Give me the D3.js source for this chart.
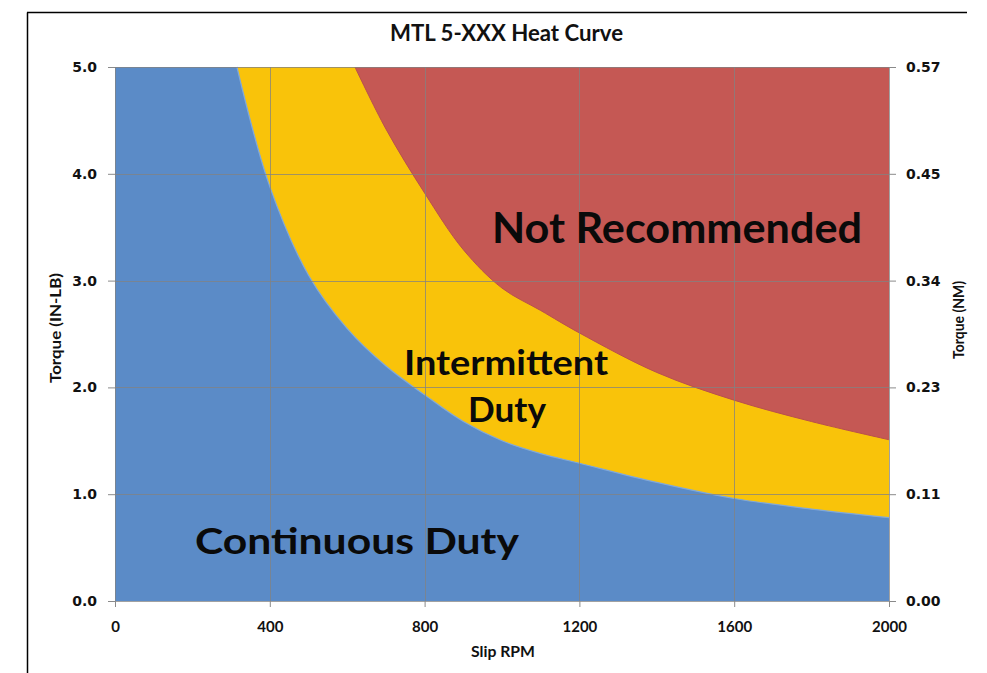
<!DOCTYPE html>
<html>
<head>
<meta charset="utf-8">
<script src="https://cdn.jsdelivr.net/npm/d3@7"></script>
<style>
  html, body { margin: 0; padding: 0; background: #fff; }
  svg { display: block; }
</style>
</head>
<body>
<svg id="chart" width="987" height="673"></svg>
<script>
// ---- Data ----
const title = "MTL 5-XXX Heat Curve";
const xTicks = [0, 400, 800, 1200, 1600, 2000];
const yTicks = [0, 1, 2, 3, 4, 5];
const nmTickLabels = ["0.00", "0.11", "0.23", "0.34", "0.45", "0.57"];

// Continuous duty limit (Torque IN-LB vs Slip RPM)
const contRpm    = [315, 400, 500, 600, 700, 800, 900, 1000, 1100, 1200, 1400, 1600, 1800, 2000];
const contTorque = [5.0, 3.88, 3.05, 2.55, 2.2, 1.93, 1.68, 1.5, 1.38, 1.29, 1.11, 0.96, 0.86, 0.78];

// Intermittent duty limit
const intRpm    = [620, 700, 800, 900, 1000, 1100, 1200, 1400, 1600, 1800, 2000];
const intTorque = [5.0, 4.42, 3.82, 3.29, 2.93, 2.72, 2.51, 2.14, 1.88, 1.68, 1.51];

const regionLabels = ["Not Recommended", "Intermittent", "Duty", "Continuous Duty"];

// ---- Layout ----
const svg = d3.select("#chart");
const L = 115, R = 889, T = 67, B = 601;
const x = d3.scaleLinear().domain([0, 2000]).range([L, R]);
const y = d3.scaleLinear().domain([0, 5]).range([B, T]);

const colBlue = "#5B8BC7", colYellow = "#F9C30A", colRed = "#C55854";
const bold = "Lato, 'Open Sans', sans-serif";
const verd = "'DejaVu Sans', Verdana, sans-serif";

// outer frame (partial, as in screenshot)
svg.append("line").attr("x1", 27.5).attr("x2", 27.5).attr("y1", 12.5).attr("y2", 673)
  .attr("stroke", "#000").attr("stroke-width", 1.5);
svg.append("line").attr("x1", 27).attr("x2", 967).attr("y1", 12.5).attr("y2", 12.5)
  .attr("stroke", "#000").attr("stroke-width", 1.5);

// title
svg.append("text").attr("x", 390).attr("y", 41)
  .attr("font-family", bold).attr("font-weight", 700).attr("font-size", 22)
  .attr("textLength", 233).attr("lengthAdjust", "spacingAndGlyphs")
  .attr("fill", "#111").text(title);

// ---- Areas ----
const line = d3.line().x(d => x(d[0])).y(d => y(d[1])).curve(d3.curveCatmullRom.alpha(0.5));
function regionPath(rpm, tq) {
  const pts = rpm.map((r, i) => [r, tq[i]]);
  const curve = line(pts).replace(/^M/, "L");
  return `M${x(0)},${y(0)}L${x(0)},${y(5)}` + curve + `L${x(2000)},${y(0)}Z`;
}
const plot = svg.append("g");
plot.append("rect").attr("x", L).attr("y", T).attr("width", R - L).attr("height", B - T).attr("fill", colRed);
plot.append("path").attr("d", regionPath(intRpm, intTorque)).attr("fill", colYellow);
plot.append("path").attr("d", line(intRpm.map((r, i) => [r, intTorque[i]])))
  .attr("fill", "none").attr("stroke", "#B9504C").attr("stroke-width", 1);
plot.append("path").attr("d", regionPath(contRpm, contTorque)).attr("fill", colBlue);
plot.append("path").attr("d", line(contRpm.map((r, i) => [r, contTorque[i]])))
  .attr("fill", "none").attr("stroke", "#7FA8DC").attr("stroke-width", 1.2);

// ---- Gridlines ----
const grid = svg.append("g").attr("stroke", "rgba(130,130,130,0.75)").attr("stroke-width", 1);
grid.selectAll("line.v").data(xTicks).join("line")
  .attr("x1", d => Math.round(x(d)) + 0.5).attr("x2", d => Math.round(x(d)) + 0.5)
  .attr("y1", T).attr("y2", B);
grid.selectAll("line.h").data(yTicks).join("line")
  .attr("y1", d => Math.round(y(d)) + 0.5).attr("y2", d => Math.round(y(d)) + 0.5)
  .attr("x1", L).attr("x2", R);

// ---- Axes ----
function styleAxis(g) {
  g.select(".domain").remove();
  g.selectAll(".tick line").attr("stroke", "#8a8a8a");
  g.selectAll(".tick text").attr("fill", "#111").attr("font-weight", 700);
}
svg.append("g").attr("transform", `translate(${L},0)`)
  .call(d3.axisLeft(y).tickValues(yTicks).tickFormat(d3.format(".1f")).tickSize(7).tickPadding(11))
  .call(styleAxis)
  .call(g => g.selectAll(".tick text").attr("font-family", verd).attr("font-size", 14));

svg.append("g").attr("transform", `translate(${R},0)`)
  .call(d3.axisRight(y).tickValues(yTicks).tickFormat((d, i) => nmTickLabels[i]).tickSize(7).tickPadding(10))
  .call(styleAxis)
  .call(g => g.selectAll(".tick text").attr("font-family", verd).attr("font-size", 14));

svg.append("g").attr("transform", `translate(0,${B})`)
  .call(d3.axisBottom(x).tickValues(xTicks).tickFormat(d3.format("d")).tickSize(6))
  .call(styleAxis)
  .call(g => g.selectAll(".tick text").attr("font-family", bold).attr("font-size", 15)
    .attr("y", 31).attr("dy", 0));

// axis titles
svg.append("text").attr("transform", "translate(61,328) rotate(-90)").attr("text-anchor", "middle")
  .attr("font-family", bold).attr("font-weight", 700).attr("font-size", 15).attr("fill", "#111")
  .attr("textLength", 110).attr("lengthAdjust", "spacingAndGlyphs")
  .text("Torque (IN-LB)");
svg.append("text").attr("transform", "translate(964,320) rotate(-90)").attr("text-anchor", "middle")
  .attr("font-family", bold).attr("font-weight", 700).attr("font-size", 15).attr("fill", "#111")
  .attr("textLength", 78).attr("lengthAdjust", "spacingAndGlyphs")
  .text("Torque (NM)");
svg.append("text").attr("x", 503).attr("y", 657).attr("text-anchor", "middle")
  .attr("font-family", bold).attr("font-weight", 700).attr("font-size", 15).attr("fill", "#111")
  .attr("textLength", 64).attr("lengthAdjust", "spacingAndGlyphs")
  .text("Slip RPM");

// ---- Region labels ----
const lbl = [
  {t: regionLabels[0], x: 492, y: 243, s: 42, w: 370},
  {t: regionLabels[1], x: 404, y: 375, s: 35, w: 204},
  {t: regionLabels[2], x: 468, y: 422, s: 35, w: 78},
  {t: regionLabels[3], x: 195, y: 554, s: 36, w: 324}
];
svg.selectAll("text.region").data(lbl).join("text").attr("class", "region")
  .attr("x", d => d.x).attr("y", d => d.y)
  .attr("font-family", bold).attr("font-weight", 700).attr("font-size", d => d.s)
  .attr("fill", "#0a0a0a")
  .attr("textLength", d => d.w).attr("lengthAdjust", "spacingAndGlyphs")
  .text(d => d.t);
</script>
</body>
</html>
